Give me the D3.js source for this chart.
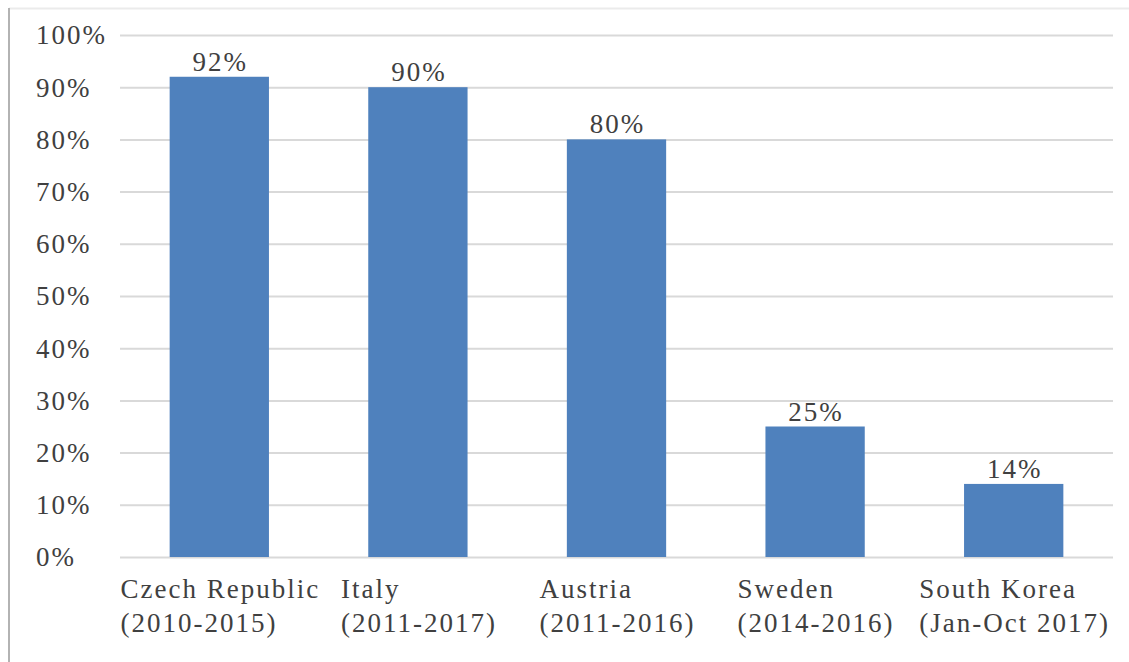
<!DOCTYPE html>
<html>
<head>
<meta charset="utf-8">
<script src="https://cdn.jsdelivr.net/npm/d3@7"></script>
<style>
  html, body { margin: 0; padding: 0; background: #ffffff; }
  svg { display: block; }
</style>
</head>
<body>
<svg id="chart" width="1129" height="662"></svg>
<script>
const categories = ["Czech Republic", "Italy", "Austria", "Sweden", "South Korea"];
const periods = ["(2010-2015)", "(2011-2017)", "(2011-2016)", "(2014-2016)", "(Jan-Oct 2017)"];
const values = [92, 90, 80, 25, 14];
const yTicks = [0, 10, 20, 30, 40, 50, 60, 70, 80, 90, 100];

const W = 1129, H = 662;
const margin = { left: 120, right: 16, top: 35, bottom: 105 };
const FONT = "'Liberation Serif', 'Times New Roman', serif";
const FS = 27, LS = 2;
const textColor = "#404040";

const svg = d3.select("#chart");

// frame lines
svg.append("line").attr("x1", 9).attr("x2", W).attr("y1", 8.5).attr("y2", 8.5)
  .attr("stroke", "#ebebeb").attr("stroke-width", 2);
svg.append("line").attr("x1", 9).attr("x2", 9).attr("y1", 8).attr("y2", H)
  .attr("stroke", "#b3b3b3").attr("stroke-width", 2);

const x = d3.scaleBand().domain(categories)
  .range([margin.left, W - margin.right]).paddingInner(0.5).paddingOuter(0.25);
const y = d3.scaleLinear().domain([0, 100]).range([H - margin.bottom, margin.top]);

// gridlines
const grid = d3.axisLeft(y).tickValues(yTicks).tickSize(-(W - margin.right - margin.left)).tickFormat("");
const gg = svg.append("g").attr("transform", `translate(${margin.left},0)`).call(grid);
gg.select(".domain").remove();
gg.selectAll(".tick line").attr("stroke", "#d9d9d9").attr("stroke-width", 2);

function styleText(sel) {
  return sel.attr("font-family", FONT).attr("font-size", FS)
    .attr("letter-spacing", LS).attr("fill", textColor);
}

// y tick labels (left aligned)
svg.append("g").selectAll("text").data(yTicks).join("text")
  .attr("x", 36).attr("y", d => y(d)).attr("dy", "0.35em")
  .call(styleText)
  .text(d => d + "%");

// bars
svg.append("g").selectAll("rect").data(values).join("rect")
  .attr("x", (d, i) => x(categories[i]))
  .attr("width", x.bandwidth())
  .attr("y", d => y(d))
  .attr("height", d => y(0) - y(d))
  .attr("fill", "#4f81bd");

// data labels
svg.append("g").selectAll("text").data(values).join("text")
  .attr("x", (d, i) => x(categories[i]) + x.bandwidth() / 2 + LS / 2)
  .attr("y", d => y(d) - 6)
  .attr("text-anchor", "middle")
  .call(styleText)
  .text(d => d + "%");

// category labels: two lines, block centred on bar, lines left-aligned
const catG = svg.append("g");
categories.forEach((c, i) => {
  const cx = x(c) + x.bandwidth() / 2;
  const g = catG.append("g");
  const t1 = g.append("text").attr("y", 598).text(c);
  const t2 = g.append("text").attr("y", 632).text(periods[i]);
  g.selectAll("text").call(styleText);
  const w = Math.max(t1.node().getComputedTextLength(), t2.node().getComputedTextLength()) - LS;
  g.selectAll("text").attr("x", cx - w / 2);
});
</script>
</body>
</html>
